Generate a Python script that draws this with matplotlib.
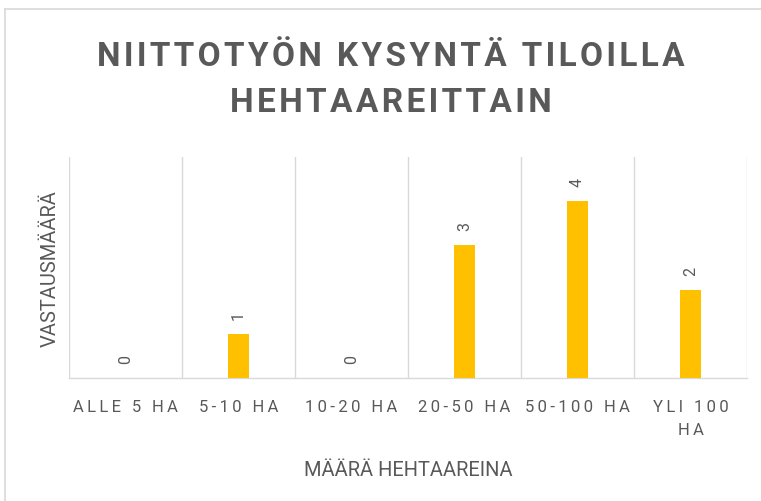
import matplotlib.pyplot as plt
from matplotlib.lines import Line2D

# data
categories = ['ALLE 5 HA', '5-10 HA', '10-20 HA', '20-50 HA', '50-100 HA', 'YLI 100\nHA']
values = [0, 1, 0, 3, 4, 2]
title = 'NIITTOTYÖN KYSYNTÄ TILOILLA\nHEHTAAREITTAIN'

grey = '#595959'
grid = '#d9d9d9'
gold = '#FFC000'
fonts = ['Roboto', 'DejaVu Sans']


def spaced(s, sep='\u200a'):
    # letter spacing like the Excel styles
    return '\n'.join(sep.join(line) for line in s.split('\n'))


fig = plt.figure(figsize=(7.61, 5.02), dpi=100)
ax = fig.add_axes([69 / 761, 1 - 379 / 502, 678 / 761, 221 / 502])

x = range(len(categories))
bars = ax.bar(x, values, width=0.19, color=gold, zorder=3)

ax.set_xlim(-0.5, len(categories) - 0.5)
ax.set_ylim(0, 5)

# vertical gridlines at category borders
for b in [i - 0.5 for i in range(len(categories) + 1)]:
    ax.axvline(b, color=grid, lw=1.0, zorder=1)

for s in ['top', 'right', 'left']:
    ax.spines[s].set_visible(False)
ax.spines['bottom'].set_color(grid)
ax.spines['bottom'].set_linewidth(1.0)

ax.set_yticks([])
ax.set_xticks(list(x))
ax.set_xticklabels([spaced(c, '\u2009') for c in categories], fontsize=12,
                   color=grey, family=fonts, linespacing=1.65)
ax.tick_params(axis='x', length=0, pad=15)

for xi, v in zip(x, values):
    ax.annotate(str(v), (xi, v), xytext=(0, 14), textcoords='offset points',
                rotation=90, ha='center', va='center', fontsize=11.5,
                color=grey, family=fonts)

ax.set_xlabel('MÄÄRÄ HEHTAAREINA', fontsize=14.5, color=grey, family=fonts, labelpad=17)
ax.set_ylabel('VASTAUSMÄÄRÄ', fontsize=14.5, color=grey, family=fonts)
ax.yaxis.set_label_coords(-9 / 678, 0.5)

fig.text(391 / 761, 1 - 80 / 502, spaced(title), ha='center', va='center',
         fontsize=24, fontweight='bold', color=grey, family=fonts, linespacing=1.6)

# chart area border
fig.add_artist(Line2D([5 / 761, 5 / 761], [1 - 10 / 502, 0], color=grid, lw=1.2,
                      transform=fig.transFigure))
fig.add_artist(Line2D([5 / 761, 1], [1 - 10 / 502, 1 - 10 / 502], color=grid, lw=1.2,
                      transform=fig.transFigure))

fig.savefig('out.png', dpi=100)
